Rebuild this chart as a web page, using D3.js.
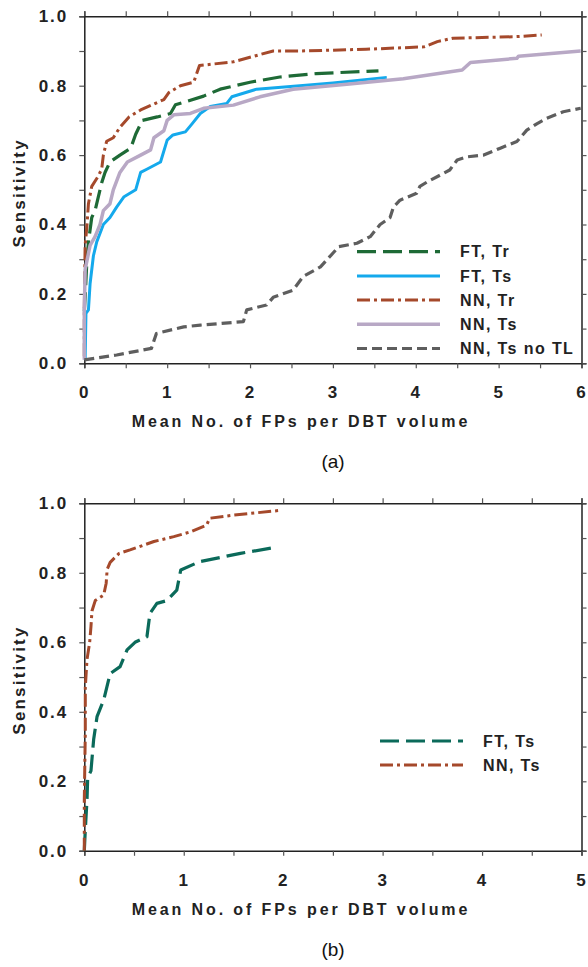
<!DOCTYPE html>
<html>
<head>
<meta charset="utf-8">
<script src="https://cdn.jsdelivr.net/npm/d3@7"></script>
<style>
  body { margin: 0; background: #fff; }
  svg { display: block; font-family: "Liberation Sans", Arial, sans-serif; }
</style>
</head>
<body>
<div id="chart"></div>
<script>
// panel (a) curves: [mean FPs per volume, sensitivity]
var ftTrA = [[0,0.15],[0.01,0.19],[0.03,0.29],[0.05,0.35],[0.09,0.42],[0.13,0.44],[0.17,0.48],[0.21,0.52],
    [0.25,0.55],[0.31,0.58],[0.43,0.60],[0.56,0.62],[0.62,0.66],[0.70,0.70],[0.88,0.71],[1.04,0.72],
    [1.10,0.745],[1.24,0.755],[1.44,0.77],[1.64,0.79],[2.0,0.81],[2.36,0.825],[2.8,0.835],[3.55,0.843]];
var ftTsA = [[0.01,0.01],[0.02,0.144],[0.05,0.154],[0.07,0.23],[0.11,0.31],[0.15,0.35],[0.19,0.375],
    [0.23,0.40],[0.31,0.42],[0.39,0.45],[0.48,0.48],[0.62,0.50],[0.68,0.55],[0.76,0.56],[0.92,0.58],
    [1.0,0.643],[1.07,0.658],[1.22,0.667],[1.30,0.69],[1.40,0.72],[1.52,0.74],[1.72,0.749],[1.78,0.768],
    [2.08,0.79],[2.6,0.80],[3.0,0.808],[3.65,0.824]];
var nnTrA = [[0,0.02],[0,0.16],[0.01,0.34],[0.03,0.39],[0.05,0.46],[0.09,0.51],[0.17,0.54],[0.21,0.56],
    [0.23,0.60],[0.27,0.64],[0.35,0.65],[0.43,0.68],[0.54,0.71],[0.68,0.73],[0.82,0.745],[0.96,0.76],
    [1.02,0.78],[1.16,0.80],[1.32,0.81],[1.39,0.858],[1.8,0.869],[2.28,0.90],[2.6,0.90],[3.4,0.905],
    [4.1,0.912],[4.26,0.927],[4.45,0.937],[5.18,0.941],[5.52,0.946]];
var nnTsA = [[0,0.01],[0,0.15],[0.01,0.27],[0.07,0.34],[0.13,0.365],[0.19,0.40],[0.23,0.44],[0.31,0.46],
    [0.35,0.50],[0.43,0.55],[0.52,0.58],[0.68,0.60],[0.80,0.615],[0.84,0.65],[0.96,0.67],[1.0,0.70],
    [1.08,0.716],[1.28,0.72],[1.44,0.735],[1.8,0.744],[2.12,0.768],[2.52,0.79],[3.2,0.805],[3.85,0.82],
    [4.56,0.845],[4.66,0.867],[5.22,0.879],[5.24,0.885],[5.99,0.90]];
var nnTsNoTlA = [[0,0.01],[0.39,0.024],[0.81,0.043],[0.87,0.086],[1.2,0.105],[1.4,0.11],[1.92,0.12],
    [1.96,0.154],[2.2,0.168],[2.28,0.19],[2.52,0.211],[2.64,0.25],[2.85,0.278],[3.01,0.32],[3.07,0.336],
    [3.29,0.346],[3.45,0.365],[3.57,0.40],[3.69,0.42],[3.73,0.45],[3.81,0.47],[4.01,0.49],[4.05,0.51],
    [4.14,0.523],[4.30,0.543],[4.41,0.557],[4.50,0.586],[4.62,0.595],[4.82,0.60],[5.02,0.62],[5.22,0.639],
    [5.34,0.672],[5.46,0.69],[5.58,0.706],[5.78,0.725],[5.99,0.735]];

// panel (b) curves
var ftTsB = [[0,0],[0.01,0.06],[0.027,0.146],[0.034,0.21],[0.067,0.23],[0.094,0.32],[0.128,0.386],
    [0.195,0.434],[0.26,0.51],[0.36,0.53],[0.43,0.578],[0.51,0.60],[0.63,0.616],[0.66,0.683],[0.73,0.712],
    [0.83,0.72],[0.93,0.75],[0.97,0.808],[1.16,0.832],[1.57,0.856],[1.90,0.872]];
var nnTsB = [[0,0],[0,0.146],[0.01,0.34],[0.01,0.47],[0.027,0.55],[0.054,0.60],[0.067,0.645],[0.077,0.69],
    [0.11,0.72],[0.195,0.736],[0.22,0.77],[0.23,0.81],[0.26,0.83],[0.35,0.856],[0.46,0.866],[0.70,0.89],
    [0.90,0.904],[1.07,0.918],[1.23,0.937],[1.26,0.957],[1.5,0.966],[1.95,0.979]];

var legendA = ["FT, Tr", "FT, Ts", "NN, Tr", "NN, Ts", "NN, Ts no TL"];
var legendB = ["FT, Ts", "NN, Ts"];

var styles = {
    ftTr:  { color: "#1e6a36", width: 3.2, dash: "19,7" },
    ftTs:  { color: "#14a9ec", width: 3, dash: null },
    nnTr:  { color: "#a5492b", width: 3, dash: "13,4,3,4" },
    nnTs:  { color: "#b8a8c5", width: 3.5, dash: null },
    noTl:  { color: "#5e5e5e", width: 3.2, dash: "10,5" },
    ftTsB: { color: "#0b6a5a", width: 3.2, dash: "19,7" },
    nnTsB: { color: "#a5492b", width: 3, dash: "13,4,3,4" }
};

var width = 588, height = 967;
var svg = d3.select("#chart").append("svg").attr("width", width).attr("height", height);

function drawPanel(cfg) {
    var x = d3.scaleLinear().domain([0, cfg.xMax]).range([84.3, 581.5]);
    var y = d3.scaleLinear().domain([0, 1]).range([cfg.bottom, cfg.top]);
    var g = svg.append("g");

    var minorX = d3.range(0, cfg.xMax + 0.001, 0.5);
    var minorY = d3.range(0, 1.001, 0.1);
    var isMajorX = function (d) { return Math.abs(d - Math.round(d)) < 1e-6; };
    var isMajorY = function (d) { return Math.abs(d * 5 - Math.round(d * 5)) < 1e-6; };

    // four sides, ticks pointing out
    var axes = [
        { a: d3.axisBottom(x).tickValues(minorX).tickFormat(function (d) { return isMajorX(d) ? d3.format("d")(d) : ""; }), t: "translate(0," + cfg.bottom + ")" },
        { a: d3.axisTop(x).tickValues(minorX).tickFormat(""), t: "translate(0," + cfg.top + ")" },
        { a: d3.axisLeft(y).tickValues(minorY).tickFormat(function (d) { return isMajorY(d) ? d3.format(".1f")(d) : ""; }), t: "translate(84.3,0)" },
        { a: d3.axisRight(y).tickValues(minorY).tickFormat(""), t: "translate(581.5,0)" }
    ];
    axes.forEach(function (ax, i) {
        var ag = g.append("g").attr("transform", ax.t)
            .call(ax.a.tickSizeOuter(0).tickSize(5).tickPadding(i === 0 ? 18 : 11));
        ag.select(".domain").attr("stroke", "#222").attr("stroke-width", 1.5);
        ag.selectAll(".tick line").attr("stroke", "#555").attr("stroke-width", 1.2);
        ag.selectAll(".tick text").attr("fill", "#222").style("font-size", "17px")
            .style("font-weight", "bold").style("letter-spacing", "2px");
    });

    var line = d3.line().x(function (d) { return x(d[0]); }).y(function (d) { return y(d[1]); });

    cfg.series.forEach(function (s) {
        g.append("path").datum(s.data)
            .attr("d", line)
            .attr("fill", "none")
            .attr("stroke", s.style.color)
            .attr("stroke-width", s.style.width)
            .attr("stroke-dasharray", s.style.dash)
            .attr("stroke-linejoin", "round");
    });

    // legend
    var lg = g.append("g");
    cfg.series.forEach(function (s, i) {
        var ly = cfg.legY + i * cfg.legStep;
        lg.append("line")
            .attr("x1", cfg.legX).attr("x2", cfg.legX + 83)
            .attr("y1", ly).attr("y2", ly)
            .attr("stroke", s.style.color)
            .attr("stroke-width", s.style.width)
            .attr("stroke-dasharray", s.style.dash);
        lg.append("text")
            .attr("x", cfg.legX + 103).attr("y", ly)
            .attr("dy", "0.36em")
            .attr("fill", "#222")
            .style("font-size", "16px").style("font-weight", "bold").style("letter-spacing", "1.4px")
            .text(s.name);
    });

    // titles
    g.append("text")
        .attr("x", 301).attr("y", cfg.bottom + 58)
        .attr("dy", "0.36em")
        .attr("text-anchor", "middle")
        .attr("fill", "#222")
        .style("font-size", "16px").style("font-weight", "bold").style("letter-spacing", "2.9px")
        .text("Mean No. of FPs per DBT volume");

    g.append("text")
        .attr("transform", "translate(19," + ((cfg.top + cfg.bottom) / 2 + 3) + ") rotate(-90)")
        .attr("dy", "0.36em")
        .attr("text-anchor", "middle")
        .attr("fill", "#222")
        .style("font-size", "17px").style("font-weight", "bold").style("letter-spacing", "2.2px")
        .text("Sensitivity");

    g.append("text")
        .attr("x", 333).attr("y", cfg.bottom + 98)
        .attr("dy", "0.36em")
        .attr("text-anchor", "middle")
        .attr("fill", "#111")
        .style("font-size", "19px")
        .text(cfg.caption);
}

drawPanel({
    xMax: 6, top: 16.3, bottom: 363.3, caption: "(a)",
    legX: 357, legY: 251.7, legStep: 24.2,
    series: [
        { name: legendA[0], data: ftTrA, style: styles.ftTr },
        { name: legendA[1], data: ftTsA, style: styles.ftTs },
        { name: legendA[2], data: nnTrA, style: styles.nnTr },
        { name: legendA[3], data: nnTsA, style: styles.nnTs },
        { name: legendA[4], data: nnTsNoTlA, style: styles.noTl }
    ]
});

drawPanel({
    xMax: 5, top: 503.3, bottom: 850.8, caption: "(b)",
    legX: 380, legY: 741, legStep: 24,
    series: [
        { name: legendB[0], data: ftTsB, style: styles.ftTsB },
        { name: legendB[1], data: nnTsB, style: styles.nnTsB }
    ]
});
</script>
</body>
</html>
